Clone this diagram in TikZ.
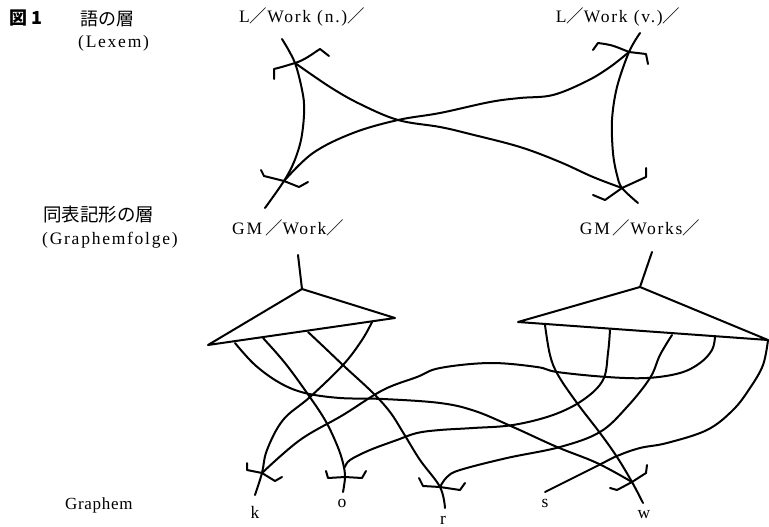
\documentclass[tikz,border=0pt]{standalone}
\usepackage{fontspec}
\setmainfont{Liberation Serif}[LetterSpace=10]
\newfontfamily\cjk{Noto Sans CJK JP}
\newcommand\fsl{{\cjk ／}}
\begin{document}
\begin{tikzpicture}[x=1pt,y=-1pt,
  wire/.style={line width=2pt, line cap=round, line join=round},
  lbl/.style={inner sep=0pt, font=\fontsize{17.5}{20}\selectfont},
  jlbl/.style={inner sep=0pt, font=\fontsize{18}{20}\selectfont\cjk},
  letter/.style={inner sep=0pt, font=\fontsize{17.5}{20}\selectfont}]
\useasboundingbox (0,0) rectangle (769,527);

% ---------- labels ----------
\node[jlbl, font=\fontsize{18}{20}\selectfont\cjk\bfseries] (fig) at (26,18) {図 1};
\node[jlbl, anchor=west] (lexj) at (80,19) {語の層};
\node[lbl, anchor=west] (lexl) at (78,43) {(Lexem)};
\node[lbl] (ln) at (302,17) {L\fsl Work (n.)\fsl};
\node[lbl] (lv) at (618,17) {L\fsl Work (v.)\fsl};
\node[jlbl, anchor=west, font=\fontsize{18.5}{20}\selectfont\cjk] (gfj) at (43,215) {同表記形の層};
\node[lbl, anchor=west] (gfl) at (42,240) {(Graphemfolge)};
\node[lbl] (gm1) at (288,228) {GM\,\fsl Work\fsl};
\node[lbl] (gm2) at (640,228) {GM\,\fsl Works\fsl};
\node[lbl, anchor=west, font=\fontsize{17}{20}\selectfont\addfontfeature{LetterSpace=4}] (gr) at (65,505) {Graphem};
\node[letter] (lk) at (255,512) {k};
\node[letter] (lo) at (342,503) {o};
\node[letter] (lr) at (443,520) {r};
\node[letter] (ls) at (545,503) {s};
\node[letter] (lw) at (644,515) {w};

% ---------- lexeme layer: junctions ----------
\coordinate (nTop) at (282,39);
\coordinate (nU) at (295,63);
\coordinate (nL) at (284,181);
\coordinate (nBot) at (265,208);
\coordinate (vTop) at (640,33);
\coordinate (vU) at (629,52);
\coordinate (vL) at (622,188);
\coordinate (vBot) at (638,203);

% L/Work (n.)/
\draw[wire] plot[smooth, tension=0.55] coordinates
  {(nTop) (nU) (303,95) (304,115) (301,140) (294,162) (nL) (nBot)};
\draw[wire] (274,79) -- (274,69) .. controls (282,67) .. (nU)
  .. controls (305,60) and (312,54) .. (320,49) -- (329,56);
\draw[wire] (261,170) -- (264,176) -- (nL) -- (299,187) -- (308,182);

% L/Work (v.)/
\draw[wire] plot[smooth, tension=0.55] coordinates
  {(vTop) (vU) (617,87) (612,120) (613,153) (617,175) (vL) (vBot)};
\draw[wire] (593,50) -- (598,43) .. controls (612,45) .. (vU) -- (646,54) -- (648,64);
\draw[wire] (593,195) -- (605,200) -- (vL) -- (646,177) -- (646,168);

% crossing links between the two lexemes
\draw[wire] plot[smooth, tension=0.6] coordinates
  {(nU) (330,87) (360,104) (398,120) (440,127) (470,134) (520,147) (560,162) (593,177) (vL)};
\draw[wire] plot[smooth, tension=0.6] coordinates
  {(nL) (313,153) (353,133) (398,120) (440,113) (490,102) (520,98) (553,95) (587,81) (610,67) (vU)};

% ---------- graphemic sequences ----------
\coordinate (aTop) at (298,255);
\coordinate (aApex) at (302,289);
\coordinate (aLeft) at (208,345);
\coordinate (aRight) at (395,318);
\coordinate (bTop) at (652,252);
\coordinate (bApex) at (640,287);
\coordinate (bLeft) at (518,322);
\coordinate (bRight) at (768,340);

\draw[wire] (aTop) -- (aApex);
\draw[wire] (aApex) -- (aLeft) -- (aRight) -- cycle;
\draw[wire] (bTop) -- (bApex);
\draw[wire] (bApex) -- (bLeft) -- (bRight) -- cycle;

% ---------- graphemes ----------
\coordinate (kJ) at (262,473);
\coordinate (kEnd) at (255,495);
\coordinate (oJ) at (345,477);
\coordinate (oEnd) at (343,492);
\coordinate (rJ) at (440,487);
\coordinate (rEnd) at (445,508);
\coordinate (sEnd) at (545,492);
\coordinate (wJ) at (632,482);
\coordinate (wEnd) at (643,503);

\draw[wire] (247,463) -- (247,470) -- (kJ) -- (275,481) -- (282,477);
\draw[wire] (326,471) -- (328,478) -- (oJ) -- (362,478) -- (366,471);
\draw[wire] (419,478) -- (423,486) -- (rJ) -- (460,490) -- (465,483);
\draw[wire] (610,488) -- (617,490) -- (wJ) -- (646,473) -- (647,465);

% GM/Work/ -> w, o, r, k
\draw[wire] plot[smooth, tension=0.6] coordinates
  {(235,343) (255,365) (280,383) (305,393) (340,398) (383,399) (440,403)
   (475,411) (513,427) (557,447) (597,463) (wJ)};
\draw[wire] plot[smooth, tension=0.6] coordinates
  {(263,338) (285,363) (307,393) (325,420) (337,445) (343,463) (oJ) (oEnd)};
\draw[wire] plot[smooth, tension=0.6] coordinates
  {(308,332) (325,348) (345,367) (372,392) (390,412) (404,434) (420,460) (rJ) (rEnd)};
\draw[wire] plot[smooth, tension=0.6] coordinates
  {(372,322) (362,340) (343,365) (310,397) (283,420) (267,450) (kJ) (kEnd)};

% GM/Works/ -> w, o, r, k, s
\draw[wire] plot[smooth, tension=0.6] coordinates
  {(545,325) (550,355) (558,375) (577,403) (600,433) (617,457) (wJ) (wEnd)};
\draw[wire] plot[smooth, tension=0.6] coordinates
  {(610,330) (608,353) (603,380) (583,400) (553,415) (513,425) (473,428)
   (440,430) (417,433) (397,440) (370,450) (350,460) (345,467)};
\draw[wire] plot[smooth, tension=0.6] coordinates
  {(672,335) (660,355) (650,378) (627,407) (600,432) (560,447) (507,458)
   (460,470) (447,477) (rJ)};
\draw[wire] plot[smooth, tension=0.6] coordinates
  {(715,337) (712,350) (700,363) (680,373) (647,378) (607,377) (557,372)
   (537,367) (490,363) (440,368) (417,377) (383,390) (343,415) (300,440) (kJ)};
\draw[wire] plot[smooth, tension=0.6] coordinates
  {(bRight) (763,365) (750,388) (733,410) (707,430) (667,443) (640,448)
   (617,456) (597,466) (sEnd)};
\end{tikzpicture}
\end{document}
